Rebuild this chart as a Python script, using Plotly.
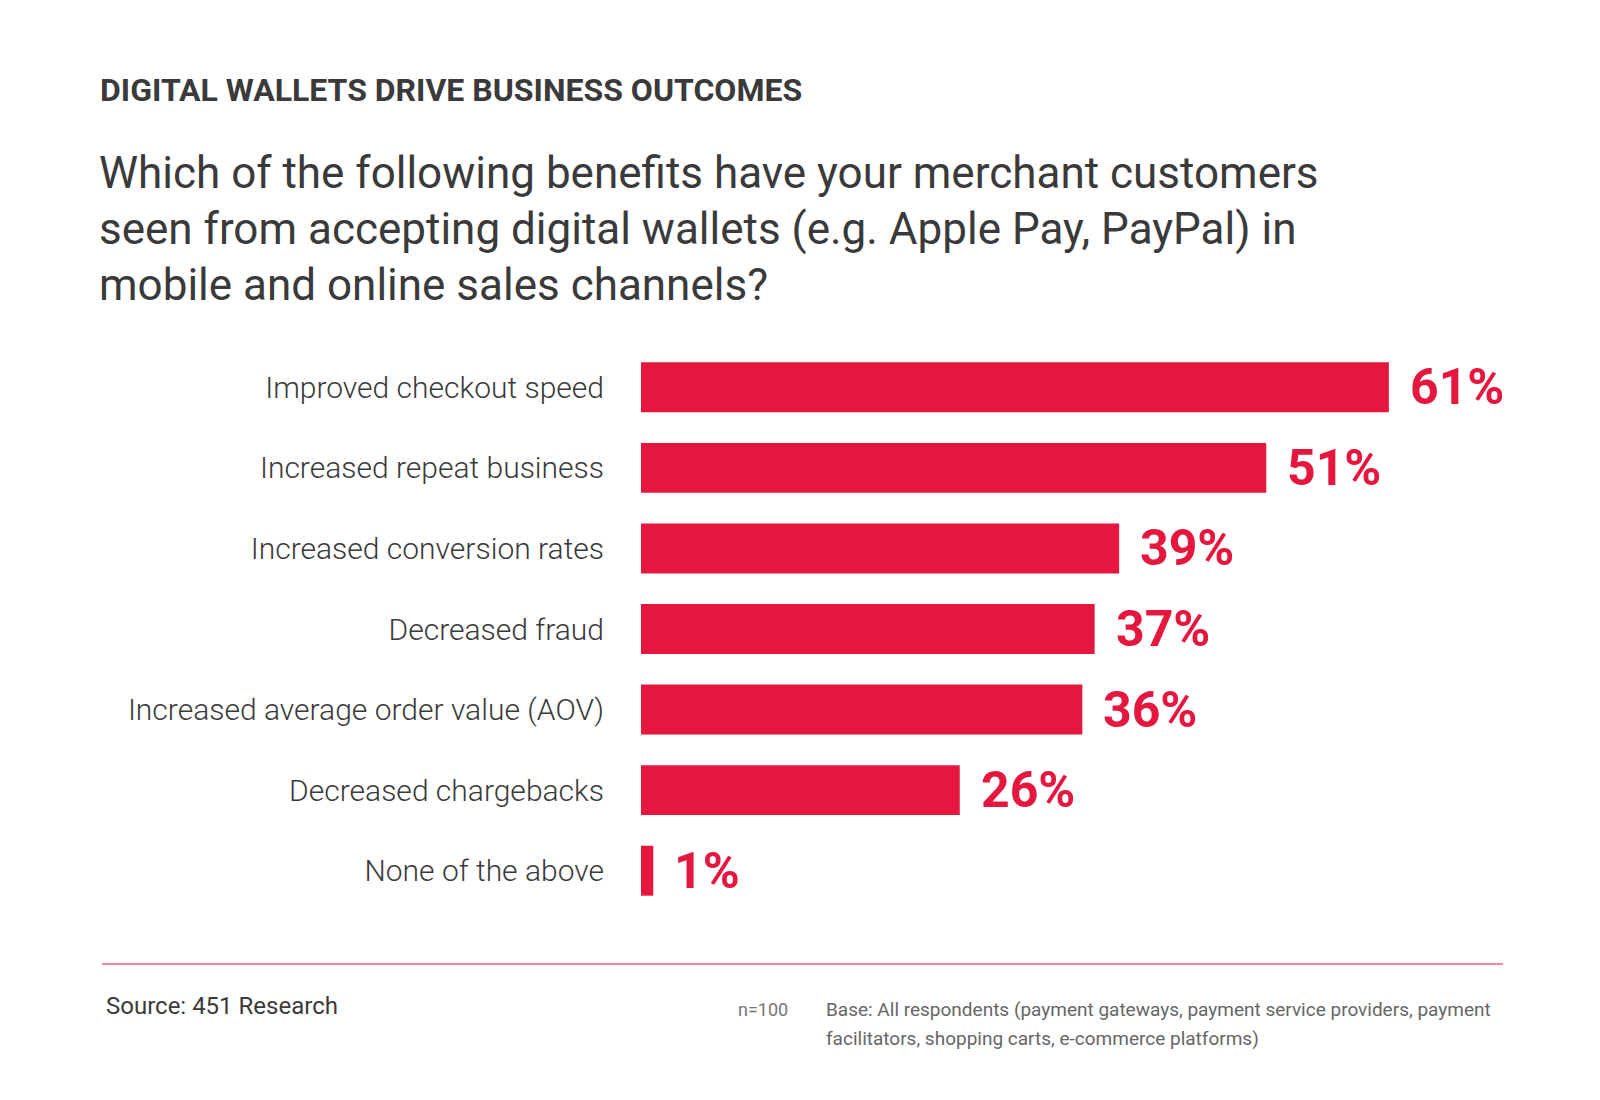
import plotly.graph_objects as go

categories = [
    "Improved checkout speed",
    "Increased repeat business",
    "Increased conversion rates",
    "Decreased fraud",
    "Increased average order value (AOV)",
    "Decreased chargebacks",
    "None of the above",
]
values = [61, 51, 39, 37, 36, 26, 1]
value_labels = [f"{v}%" for v in values]

RED = "#E5173F"
TEXT = "#3a3a3a"
FONT = "Roboto, 'Noto Sans', sans-serif"

# page body has an 8px margin; compensate so content lands where intended
OFF = 8
FIG_W, FIG_H = 1600, 1100
L, R_M, T, B = 641 - OFF, 50 + OFF, 347 - OFF, 189 + OFF
PW = FIG_W - L - R_M
PH = FIG_H - T - B
X_MAX = PW / 12.26


def px(x):
    return (x - OFF - L) / PW


def py(y):
    return (FIG_H - B - (y - OFF)) / PH


fig = go.Figure(
    go.Bar(
        x=values,
        y=categories,
        orientation="h",
        marker=dict(color=RED, line=dict(width=0)),
        width=0.62,
        hoverinfo="skip",
    )
)

annotations = []
for cat, v, lab in zip(categories, values, value_labels):
    annotations.append(
        dict(
            x=v, y=cat, xref="x", yref="y", text=lab, showarrow=False,
            xanchor="left", yanchor="middle", xshift=19,
            font=dict(family=FONT, size=50, color=RED, weight=700),
        )
    )

Q = 44
annotations += [
    dict(x=px(98), y=py(90), xref="paper", yref="paper", showarrow=False,
         text="DIGITAL WALLETS DRIVE BUSINESS OUTCOMES", xanchor="left", yanchor="middle",
         font=dict(family=FONT, size=32, color=TEXT, weight=700)),
    dict(x=px(97), y=py(173), xref="paper", yref="paper", showarrow=False,
         text="Which of the following benefits have your merchant customers",
         xanchor="left", yanchor="middle", font=dict(family=FONT, size=Q, color=TEXT)),
    dict(x=px(97), y=py(229), xref="paper", yref="paper", showarrow=False,
         text="seen from accepting digital wallets (e.g. Apple Pay, PayPal) in",
         xanchor="left", yanchor="middle", font=dict(family=FONT, size=Q, color=TEXT)),
    dict(x=px(97), y=py(285), xref="paper", yref="paper", showarrow=False,
         text="mobile and online sales channels?",
         xanchor="left", yanchor="middle", font=dict(family=FONT, size=Q, color=TEXT)),
    dict(x=px(104), y=py(1006), xref="paper", yref="paper", showarrow=False,
         text="Source: 451 Research", xanchor="left", yanchor="middle",
         font=dict(family=FONT, size=24, color=TEXT)),
    dict(x=px(736), y=py(1009), xref="paper", yref="paper", showarrow=False,
         text="n=100", xanchor="left", yanchor="middle",
         font=dict(family=FONT, size=18, color="#777777")),
    dict(x=px(824), y=py(1009), xref="paper", yref="paper", showarrow=False,
         text="Base: All respondents (payment gateways, payment service providers, payment",
         xanchor="left", yanchor="middle",
         font=dict(family=FONT, size=19, color="#666666")),
    dict(x=px(824), y=py(1038), xref="paper", yref="paper", showarrow=False,
         text="facilitators, shopping carts, e-commerce platforms)",
         xanchor="left", yanchor="middle",
         font=dict(family=FONT, size=19, color="#666666")),
]

fig.update_layout(
    width=FIG_W, height=FIG_H,
    margin=dict(l=L, r=R_M, t=T, b=B, pad=0),
    paper_bgcolor="white", plot_bgcolor="white",
    showlegend=False,
    annotations=annotations,
    shapes=[dict(type="line", xref="paper", yref="paper",
                 x0=px(102), x1=px(1503), y0=py(964), y1=py(964),
                 line=dict(color="#F0899C", width=2))],
    xaxis=dict(range=[0, X_MAX], visible=False, fixedrange=True),
    yaxis=dict(
        categoryorder="array", categoryarray=categories, autorange=False,
        range=[6.5, -0.5], showgrid=False, zeroline=False, showline=False,
        ticks="", ticklabelstandoff=36,
        tickfont=dict(family=FONT, size=30, color=TEXT, weight=300),
        fixedrange=True,
    ),
)

fig.write_html("out.html")
